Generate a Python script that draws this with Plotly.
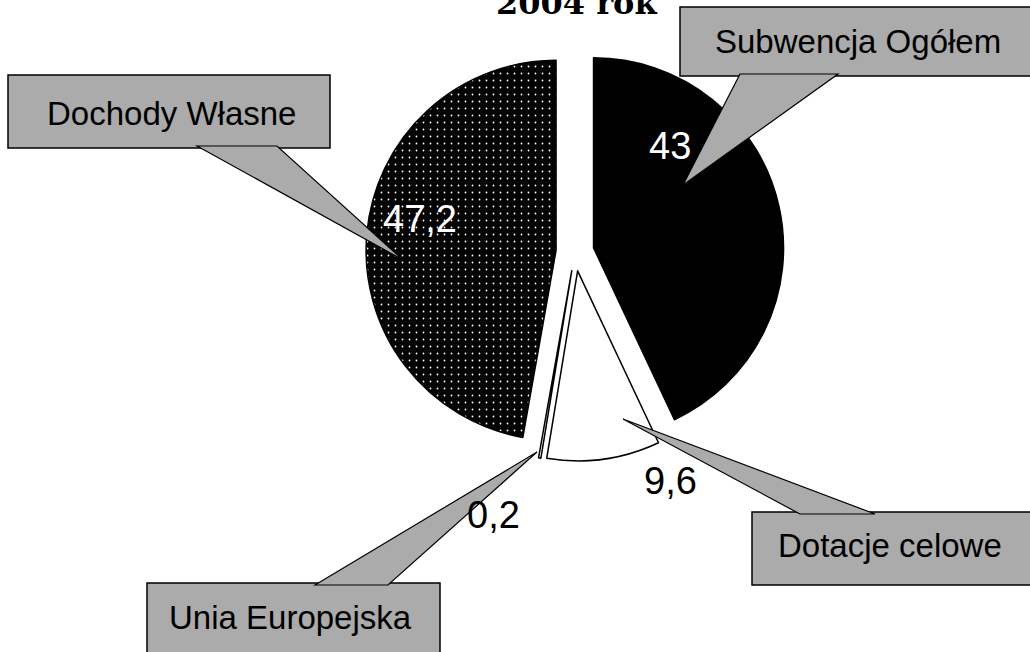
import plotly.graph_objects as go

# ---- data ----
categories = ["Subwencja Ogółem", "Dotacje celowe", "Unia Europejska", "Dochody Własne"]
values = [43, 9.6, 0.2, 47.2]
slice_colors = ["#000000", "#ffffff", "#ffffff", "#030303"]
title_text = "2004 rok"

W, H = 1030, 652


def px(x):
    return x / W


def py(y):
    return 1 - y / H


def fmt(v):
    s = f"{v:g}"
    return s.replace(".", ",")


# pie geometry (pixels)
cx, cy, r, pull = 575, 252, 190, 0.1
half = r * (1 + pull)

fig = go.Figure()
fig.add_trace(go.Pie(
    labels=categories,
    values=values,
    sort=False,
    direction="clockwise",
    rotation=0,
    pull=[pull] * len(values),
    textinfo="none",
    hoverinfo="label+value",
    showlegend=False,
    marker=dict(
        colors=slice_colors,
        line=dict(color="#000000", width=1.5),
        pattern=dict(shape=["", "", "", "."], fgcolor="#ffffff",
                     bgcolor="#030303", size=7, solidity=0.05),
    ),
    domain=dict(x=[px(cx - half), px(cx + half)], y=[py(cy + half), py(cy - half)]),
))

shapes = []
annotations = []

box_fill = "#ababab"

# callout boxes: (label index, box x0, y0, x1, y1, text center x, y, wedge tip, wedge base x-range, base side)
callouts = [
    (3, 8, 75, 330, 148, 171, 113, (403, 260), (197, 277), "bottom"),
    (0, 680, 7, 1040, 76, 858, 42, (683, 185), (740, 838), "bottom"),
    (1, 752, 512, 1040, 585, 890, 545, (623, 419), (800, 875), "top"),
    (2, 147, 583, 440, 670, 290, 617, (537, 452), (315, 388), "top"),
]

for idx, x0, y0, x1, y1, tx, ty, tip, base, side in callouts:
    shapes.append(dict(type="rect", xref="paper", yref="paper",
                       x0=px(x0), x1=px(x1), y0=py(y1), y1=py(y0),
                       fillcolor=box_fill, line=dict(color="#000000", width=1.5),
                       layer="above"))
    by = y1 - 2 if side == "bottom" else y0 + 2
    bx0, bx1 = base
    path = (f"M {px(bx0)} {py(by)} L {px(tip[0])} {py(tip[1])} "
            f"L {px(bx1)} {py(by)} Z")
    shapes.append(dict(type="path", xref="paper", yref="paper", path=path,
                       fillcolor=box_fill, line=dict(color="#000000", width=1.2),
                       layer="above"))
    annotations.append(dict(xref="paper", yref="paper", x=px(tx), y=py(ty),
                            text=categories[idx], showarrow=False,
                            xanchor="center", yanchor="middle",
                            font=dict(family="Liberation Sans, Arial", size=33,
                                      color="#000000")))

# value labels
value_pos = [(670, 146, "#ffffff"), (670, 481, "#000000"), (493, 515, "#000000"), (420, 219, "#ffffff")]
for v, (lx, ly, col) in zip(values, value_pos):
    annotations.append(dict(xref="paper", yref="paper", x=px(lx), y=py(ly),
                            text=fmt(v), showarrow=False,
                            xanchor="center", yanchor="middle",
                            font=dict(family="Liberation Sans, Arial", size=38, color=col)))

# title (partially cut off at the top, as in the scan)
annotations.append(dict(xref="paper", yref="paper", x=px(576), y=py(3),
                        text=f"<b>{title_text}</b>", showarrow=False,
                        xanchor="center", yanchor="middle",
                        font=dict(family="DejaVu Serif", size=32, color="#000000")))

fig.update_layout(
    width=W, height=H,
    margin=dict(l=0, r=0, t=0, b=0),
    paper_bgcolor="#ffffff",
    plot_bgcolor="#ffffff",
    shapes=shapes,
    annotations=annotations,
)

fig.write_html(
    "out.html",
    config={"displayModeBar": False},
    post_script="document.body.style.margin='0px';document.body.style.overflow='hidden';",
)
